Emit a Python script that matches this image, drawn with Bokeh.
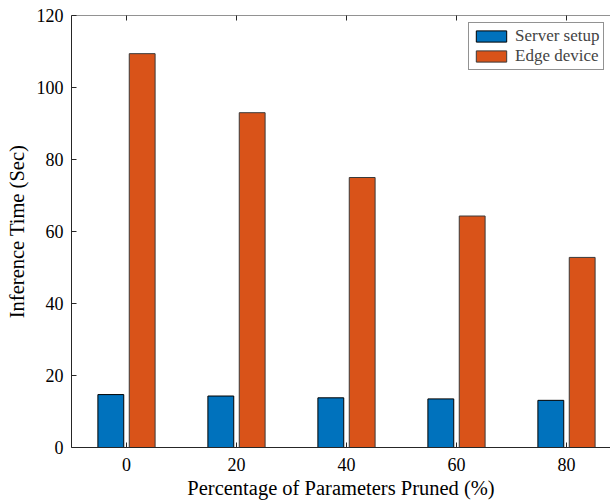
import math
from bokeh.plotting import figure
from bokeh.models import Range1d, FixedTicker, ColumnDataSource, Legend, LegendItem, Span
from bokeh.transform import dodge
from bokeh.embed import file_html
from bokeh.resources import INLINE

pruned = [0, 20, 40, 60, 80]
server_setup = [14.7, 14.3, 13.8, 13.5, 13.1]
edge_device = [109.4, 93.0, 75.0, 64.3, 52.8]
y_ticks = [0, 20, 40, 60, 80, 100, 120]

FONT = "Liberation Serif"
AX = "#262626"

src = ColumnDataSource(dict(x=pruned, server=server_setup, edge=edge_device,
                            ytop=[y_ticks[-1]] * len(pruned)))

p = figure(width=610, height=503, output_backend="svg", toolbar_location=None,
           x_range=Range1d(-10, 88), y_range=Range1d(0, 120),
           min_border_left=71, min_border_right=0, min_border_top=15, min_border_bottom=56)
p.outline_line_color = None
p.xgrid.visible = False
p.ygrid.visible = False
p.background_fill_color = "white"
p.border_fill_color = "white"

r1 = p.vbar(x=dodge("x", -2.85), top="server", width=4.7, source=src,
            fill_color="#0072BD", line_color="#000000", line_width=1)
r2 = p.vbar(x=dodge("x", 2.85), top="edge", width=4.7, source=src,
            fill_color="#D95319", line_color="#3a3a3a", line_width=1)

# top box edge and inward top ticks
p.add_layout(Span(location=y_ticks[-1], dimension="width", line_color=AX, line_width=1))
p.scatter(x="x", y="ytop", source=src, marker="dash", angle=math.pi / 2, size=10,
          line_color=AX, line_width=1)

for ax in (p.xaxis[0], p.yaxis[0]):
    ax.axis_line_color = AX
    ax.major_tick_line_color = AX
    ax.major_tick_in = 5
    ax.major_tick_out = 0
    ax.minor_tick_line_color = None
    ax.major_label_text_font = FONT
    ax.major_label_text_font_size = "18px"
    ax.major_label_text_color = "#000000"
    ax.axis_label_text_font = FONT
    ax.axis_label_text_font_size = "20.5px"
    ax.axis_label_text_font_style = "normal"
    ax.axis_label_text_color = "#000000"

p.xaxis.ticker = FixedTicker(ticks=pruned)
p.yaxis.ticker = FixedTicker(ticks=y_ticks)
p.xaxis.axis_label = "Percentage of Parameters Pruned (%)"
p.yaxis.axis_label = "Inference Time (Sec)"
p.xaxis.major_label_standoff = 10
p.xaxis.axis_label_standoff = 3
p.yaxis.major_label_standoff = 8
p.yaxis.axis_label_standoff = 6

legend = Legend(items=[LegendItem(label="Server setup", renderers=[r1]),
                       LegendItem(label="Edge device", renderers=[r2])],
                location=(397, 377), label_text_font=FONT, label_text_font_size="17px",
                glyph_width=38, glyph_height=14, spacing=0, padding=3, margin=0,
                label_standoff=5, label_height=15,
                border_line_color="#262626", border_line_width=1,
                background_fill_color="white", background_fill_alpha=1)
p.add_layout(legend)

open("out.html", "w").write(file_html(p, INLINE))
